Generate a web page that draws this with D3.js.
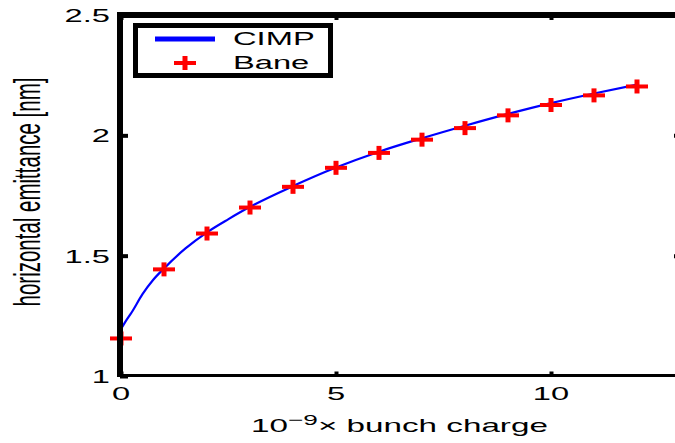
<!DOCTYPE html>
<html><head><meta charset="utf-8">
<script src="https://cdn.jsdelivr.net/npm/d3@7"></script>
<style>
body{margin:0;background:#fff;overflow:hidden;}
svg{display:block;}
text{font-family:Arial,"Liberation Sans",Helvetica,sans-serif;fill:#000;}
</style>
</head><body>
<svg id="c" width="675" height="443"></svg>
<script>
// ---- data ----
const xTicks = [0, 5, 10];
const xTickLabels = ["0", "5", "10"];
const yTicks = [1, 1.5, 2, 2.5];
const yTickLabels = ["1", "1.5", "2", "2.5"];
const cimpX = [0, 0.1, 0.25, 0.5, 0.75, 1, 1.5, 2, 2.5, 3, 4, 5, 6, 7, 8, 9, 10, 11, 12];
const cimpY = [1.195, 1.225, 1.265, 1.34, 1.40, 1.447, 1.53, 1.597, 1.652, 1.703, 1.789, 1.866, 1.932, 1.988, 2.04, 2.089, 2.134, 2.174, 2.211];
const baneX = [0, 1, 2, 3, 4, 5, 6, 7, 8, 9, 10, 11, 12];
const baneY = [1.156, 1.443, 1.592, 1.700, 1.786, 1.865, 1.927, 1.982, 2.030, 2.083, 2.126, 2.166, 2.203];
const seriesNames = ["CIMP", "Bane"];
const xLabelParts = ["10", "\u22129", "\u00d7 bunch charge"];
const yLabel = "horizontal emittance [nm]";

// ---- layout ----
const SX = 1.72; // horizontal stretch of the original figure
const svg = d3.select("#c");
const x = d3.scaleLinear().domain([0, 13]).range([121, 680]);
const y = d3.scaleLinear().domain([1, 2.5]).range([376, 15]);
const pLeft = 120, pRight = 680, pTop = 15, pBottom = 375.5;

// curve
const line = d3.line().x(d => x(d[0])).y(d => y(d[1])).curve(d3.curveMonotoneX);
svg.append("path")
  .datum(cimpX.map((v, i) => [v, cimpY[i]]))
  .attr("d", line)
  .attr("fill", "none")
  .attr("stroke", "#0000ff")
  .attr("stroke-width", 2.2);

// crosses
function cross(g, cx, cy) {
  g.append("rect").attr("x", cx - 11).attr("y", cy - 2).attr("width", 22).attr("height", 4).attr("fill", "#ff0000");
  g.append("rect").attr("x", cx - 2.5).attr("y", cy - 7).attr("width", 5).attr("height", 14).attr("fill", "#ff0000");
}
const mk = svg.append("g");
baneX.forEach((v, i) => cross(mk, x(v), y(baneY[i])));

// axes ticks (inward)
function styleAxis(g) {
  g.select(".domain").remove();
  g.selectAll(".tick line").attr("stroke", "#000").attr("stroke-width", 4);
}
svg.append("g").attr("transform", `translate(${pLeft},0)`)
  .call(d3.axisLeft(y).tickValues(yTicks).tickSize(-8).tickFormat("")).call(styleAxis);
svg.append("g").attr("transform", `translate(${pRight},0)`)
  .call(d3.axisRight(y).tickValues([1.5, 2]).tickSize(-6).tickFormat("")).call(styleAxis);
svg.append("g").attr("transform", `translate(0,${pTop})`)
  .call(d3.axisTop(x).tickValues(xTicks).tickSize(-5).tickFormat("")).call(styleAxis);
svg.append("g").attr("transform", `translate(0,${pBottom})`)
  .call(d3.axisBottom(x).tickValues(xTicks).tickSize(-4).tickFormat("")).call(styleAxis);

// frame (right edge lies outside the picture)
svg.append("line").attr("x1", pLeft).attr("x2", pLeft).attr("y1", 12).attr("y2", 377).attr("stroke", "#000").attr("stroke-width", 6);
svg.append("line").attr("x1", 117).attr("x2", 675).attr("y1", pTop).attr("y2", pTop).attr("stroke", "#000").attr("stroke-width", 6);
svg.append("line").attr("x1", 117).attr("x2", 675).attr("y1", pBottom).attr("y2", pBottom).attr("stroke", "#000").attr("stroke-width", 3);

// tick labels
yTicks.forEach((v, i) => {
  svg.append("text").attr("transform", `translate(110,${y(v) + 7}) scale(${SX},1)`)
    .attr("text-anchor", "end").attr("font-size", 19).text(yTickLabels[i]);
});
xTicks.forEach((v, i) => {
  svg.append("text").attr("transform", `translate(${x(v)},400) scale(${SX},1)`)
    .attr("text-anchor", "middle").attr("font-size", 19).text(xTickLabels[i]);
});

// x label
const xl = svg.append("text").attr("transform", `translate(251,432) scale(1.75,1)`).attr("font-size", 19);
xl.append("tspan").text(xLabelParts[0]);
xl.append("tspan").attr("font-size", 15).attr("dy", -7).text(xLabelParts[1]);
xl.append("tspan").attr("dy", 7).text(xLabelParts[2]);

// y label
svg.append("text").attr("transform", `translate(39.5,192) scale(1.78,1) rotate(-90)`)
  .attr("text-anchor", "middle").attr("font-size", 20.5).text(yLabel);

// legend
const lg = svg.append("g");
lg.append("rect").attr("x", 135.5).attr("y", 25.5).attr("width", 195).attr("height", 50)
  .attr("fill", "#fff").attr("stroke", "#000").attr("stroke-width", 5);
lg.append("line").attr("x1", 155).attr("x2", 215).attr("y1", 39).attr("y2", 39)
  .attr("stroke", "#0000ff").attr("stroke-width", 5);
cross(lg, 185, 63);
lg.append("text").attr("transform", `translate(233,45) scale(${SX},1)`).attr("font-size", 19).text(seriesNames[0]);
lg.append("text").attr("transform", `translate(233,69) scale(${SX},1)`).attr("font-size", 19).text(seriesNames[1]);
</script>
</body></html>
